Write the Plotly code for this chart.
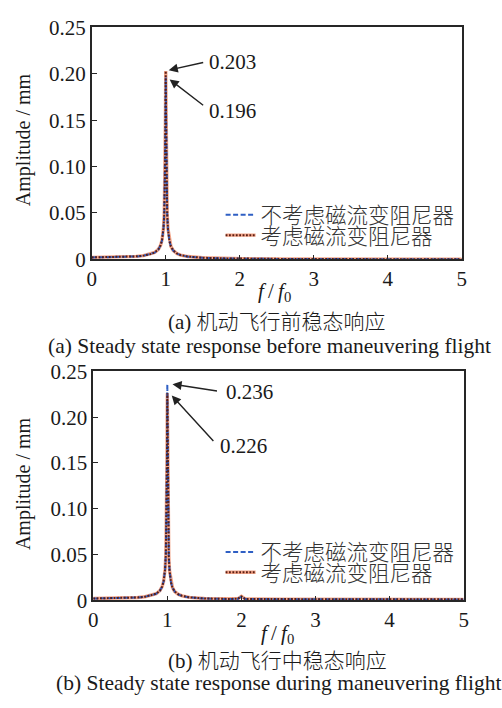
import plotly.graph_objects as go

# ---------------- data ----------------
ratio = [0, 0.2, 0.4, 0.6, 0.7, 0.8, 0.85, 0.9, 0.93, 0.95, 0.97, 0.98, 0.99, 0.995,
         1.0, 1.005, 1.01, 1.02, 1.03, 1.05, 1.07, 1.1, 1.15, 1.2, 1.3, 1.5, 1.8,
         1.95, 2.0, 2.05, 2.5, 3.0, 3.5, 4.0, 4.5, 5.0]

a_without = [0.0020, 0.0021, 0.0024, 0.0031, 0.0039, 0.0056, 0.0072, 0.0105, 0.0148, 0.0205,
             0.0334, 0.0490, 0.0897, 0.1405, 0.196, 0.1395, 0.0885, 0.0480, 0.0323, 0.0195,
             0.0138, 0.0095, 0.0062, 0.0045, 0.0029, 0.0016, 0.0009, 0.0007, 0.0007, 0.0006,
             0.0004, 0.0003, 0.0002, 0.0001, 0.0001, 0.0001]
a_with = [0.0021, 0.0022, 0.0025, 0.0032, 0.0040, 0.0057, 0.0074, 0.0107, 0.0151, 0.0209,
          0.0340, 0.0500, 0.0925, 0.1455, 0.203, 0.1445, 0.0912, 0.0490, 0.0329, 0.0198,
          0.0140, 0.0097, 0.0063, 0.0046, 0.0030, 0.0017, 0.0010, 0.0008, 0.0008, 0.0007,
          0.0005, 0.0003, 0.0002, 0.0002, 0.0001, 0.0001]
b_without = [0.0020, 0.0021, 0.0024, 0.0031, 0.0039, 0.0056, 0.0072, 0.0105, 0.0149, 0.0206,
             0.0337, 0.0494, 0.0926, 0.153, 0.236, 0.152, 0.0916, 0.0484, 0.0324, 0.0196,
             0.0139, 0.0096, 0.0064, 0.0048, 0.0032, 0.0020, 0.0015, 0.0016, 0.0042, 0.0015,
             0.0013, 0.0012, 0.0011, 0.0010, 0.0010, 0.0010]
b_with = [0.0021, 0.0022, 0.0025, 0.0032, 0.0040, 0.0057, 0.0073, 0.0106, 0.0150, 0.0207,
          0.0338, 0.0494, 0.0920, 0.150, 0.226, 0.149, 0.0909, 0.0482, 0.0323, 0.0196,
          0.0139, 0.0097, 0.0065, 0.0049, 0.0033, 0.0021, 0.0016, 0.0017, 0.0044, 0.0016,
          0.0014, 0.0013, 0.0012, 0.0011, 0.0011, 0.0011]

name_without = "不考虑磁流变阻尼器"
name_with = "考虑磁流变阻尼器"

y_ticks = [0, 0.05, 0.10, 0.15, 0.20, 0.25]
y_ticktext = ["0", "0.05", "0.10", "0.15", "0.20", "0.25"]
x_ticks = [0, 1, 2, 3, 4, 5]

peak_labels_a = ["0.203", "0.196"]
peak_labels_b = ["0.236", "0.226"]

cap_a_cn = "(a) 机动飞行前稳态响应"
cap_a_en = "(a) Steady state response before maneuvering flight"
cap_b_cn = "(b) 机动飞行中稳态响应"
cap_b_en = "(b) Steady state response during maneuvering flight"

# ---------------- style ----------------
SERIF = "Liberation Serif"
MIXED = "Liberation Serif, Noto Sans CJK SC"
CJK = "Noto Sans CJK SC"
BLUE = "#2f5fc4"
SALMON = "#f2a488"
DOT = "#5a1e14"
INK = "#1a1a1a"

fig = go.Figure()

def add_panel(ys_without, ys_with, xa, ya, leg1, leg2, leg_under):
    # salmon halo under the dotted curve; its legend swatch sits under the dotted swatch
    fig.add_trace(go.Scatter(x=ratio, y=ys_with, mode="lines", xaxis=xa, yaxis=ya,
                             name="\u2003", legend=leg_under, showlegend=True,
                             line=dict(color=SALMON, width=3.4), hoverinfo="skip"))
    fig.add_trace(go.Scatter(x=ratio, y=ys_without, mode="lines", name=name_without,
                             xaxis=xa, yaxis=ya, legend=leg1, showlegend=True,
                             line=dict(color=BLUE, width=2, dash="5px,2.5px")))
    fig.add_trace(go.Scatter(x=ratio, y=ys_with, mode="lines", name=name_with,
                             xaxis=xa, yaxis=ya, legend=leg2, showlegend=True,
                             line=dict(color=DOT, width=2, dash="1.8px,1.6px")))

add_panel(a_without, a_with, "x", "y", "legend", "legend2", "legend5")
add_panel(b_without, b_with, "x2", "y2", "legend3", "legend4", "legend6")

axis_common = dict(showline=True, linecolor="#262626", linewidth=1.6, mirror=True,
                   ticks="inside", ticklen=5, tickwidth=1.3, tickcolor="#262626",
                   showgrid=False, zeroline=False,
                   tickfont=dict(family=SERIF, size=21, color=INK))

def leg(ypx):
    return dict(x=220 / 502, y=1 - ypx / 708, xanchor="left", yanchor="middle",
                bgcolor="rgba(0,0,0,0)", font=dict(family=CJK, size=21.5, color="#333", weight=300),
                itemwidth=30, itemclick=False, itemdoubleclick=False, visible=True)

fig.update_layout(
    width=502, height=708,
    showlegend=True,
    margin=dict(l=0, r=0, t=0, b=0),
    paper_bgcolor="white", plot_bgcolor="white",
    xaxis=dict(domain=[0.1763, 0.9283], range=[0, 5], tickvals=x_ticks, anchor="y", **axis_common),
    yaxis=dict(domain=[0.6384, 0.9774], range=[0, 0.25], tickvals=y_ticks, ticktext=y_ticktext,
               anchor="x", **axis_common),
    xaxis2=dict(domain=[0.1793, 0.9323], range=[0, 5], tickvals=x_ticks, anchor="y2", **axis_common),
    yaxis2=dict(domain=[0.1398, 0.4746], range=[0, 0.25], tickvals=y_ticks, ticktext=y_ticktext,
                anchor="x2", **axis_common),
    legend=leg(210), legend2=leg(231), legend3=leg(559), legend4=leg(580),
    legend5=leg(231), legend6=leg(580),
)

anns = []

def arrow(xa, ya, x, y, ax, ay):
    anns.append(dict(xref=xa, yref=ya, x=x, y=y, text="", showarrow=True,
                     ax=ax, ay=ay, axref="pixel", ayref="pixel",
                     arrowhead=2, arrowsize=1.3, arrowwidth=1.4, arrowcolor="#222"))

def label(xa, ya, x, y, t):
    anns.append(dict(xref=xa, yref=ya, x=x, y=y, text=t, showarrow=False,
                     xanchor="left", yanchor="middle",
                     font=dict(family=SERIF, size=21, color=INK)))

# panel (a)
arrow("x", "y", 1.04, 0.204, 36, -8)
arrow("x", "y", 1.053, 0.194, 35, 27)
label("x", "y", 1.556, 0.2125, peak_labels_a[0])
label("x", "y", 1.556, 0.160, peak_labels_a[1])
# panel (b)
arrow("x2", "y2", 1.07, 0.236, 46, 7)
arrow("x2", "y2", 1.06, 0.2236, 43, 47)
label("x2", "y2", 1.76, 0.228, peak_labels_b[0])
label("x2", "y2", 1.68, 0.169, peak_labels_b[1])

def paper_text(xpx, ypx, t, size=20, family=SERIF, angle=0, weight=None):
    f = dict(family=family, size=size, color=INK)
    if weight:
        f["weight"] = weight
    anns.append(dict(xref="paper", yref="paper", x=xpx / 502, y=1 - ypx / 708, text=t,
                     showarrow=False, xanchor="center", yanchor="middle", textangle=angle,
                     font=f))

ftxt = "<i>f</i>\u2009/\u2009<i>f</i><sub>0</sub>"
paper_text(275, 290, ftxt, size=21)
paper_text(278, 644, ftxt, size=21)
paper_text(19, 132, "Amplitude / mm", size=20, angle=-90)
paper_text(19, 488, "Amplitude / mm", size=20, angle=-90)
paper_text(278, 321, cap_a_cn, size=21, family=MIXED, weight=300)
paper_text(270, 346, cap_a_en, size=21.5)
paper_text(278, 672, cap_b_cn, size=21, family=MIXED, weight=300)
paper_text(279, 695, cap_b_en, size=21.5)

fig.update_layout(annotations=anns)
fig.write_html("out.html")
